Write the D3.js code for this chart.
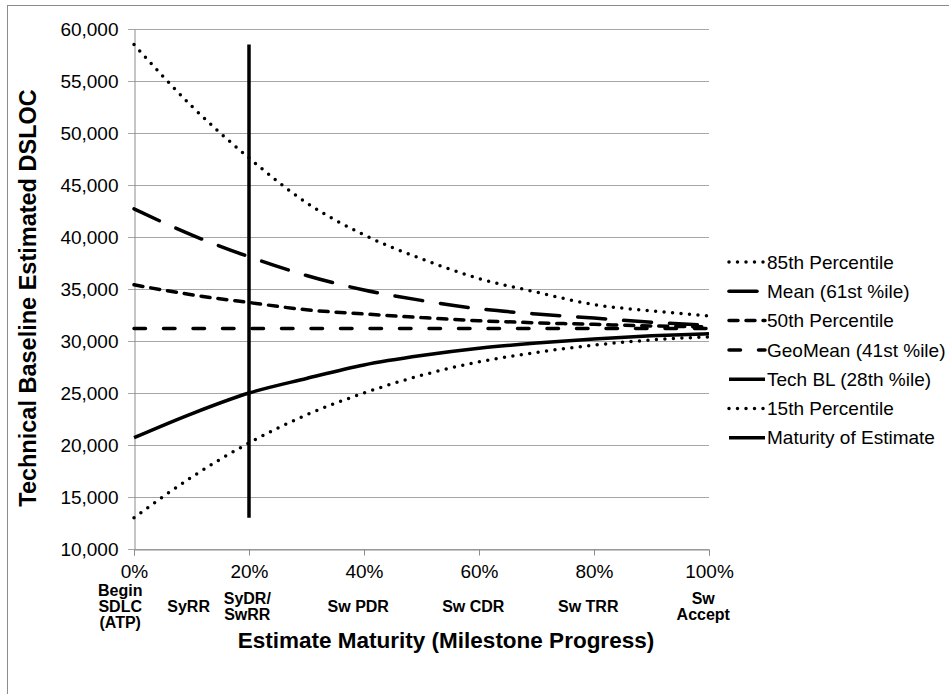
<!DOCTYPE html>
<html>
<head>
<meta charset="utf-8">
<script src="https://cdn.jsdelivr.net/npm/d3@7"></script>
<style>
  body { margin: 0; background: #fff; }
  text { font-family: "Liberation Sans", Arial, sans-serif; }
</style>
</head>
<body>
<svg id="chart"></svg>
<script>
// Data (x = milestone progress, 0..1)
const progress = [0, 0.1, 0.2, 0.3, 0.4, 0.5, 0.6, 0.7, 0.8, 0.9, 1.0];
const p85 = [58500, 52600, 47600, 43300, 40200, 37900, 36000, 34700, 33500, 32900, 32400];
const meanVals = [42700, 40200, 38100, 36300, 34900, 33900, 33100, 32600, 32200, 31800, 31500];
const p50 = [35400, 34450, 33700, 33000, 32600, 32250, 31950, 31750, 31600, 31450, 31350];
const geoMean = [31200, 31200, 31200, 31200, 31200, 31200, 31200, 31200, 31200, 31200, 31200];
const techBL = [20700, 23000, 25000, 26400, 27700, 28600, 29300, 29800, 30200, 30500, 30700];
const p15 = [13000, 16900, 20200, 22900, 25000, 26700, 28000, 28900, 29600, 30100, 30400];
const maturityX = [0.2, 0.2];
const maturityY = [13000, 58500];

const seriesNames = ["85th Percentile", "Mean (61st %ile)", "50th Percentile",
  "GeoMean (41st %ile)", "Tech BL (28th %ile)", "15th Percentile", "Maturity of Estimate"];
const yTicks = [10000, 15000, 20000, 25000, 30000, 35000, 40000, 45000, 50000, 55000, 60000];
const xTicks = [0, 0.2, 0.4, 0.6, 0.8, 1.0];
const milestones = [["Begin", "SDLC", "(ATP)"], ["SyRR"], ["SyDR/", "SwRR"], ["Sw PDR"], ["Sw CDR"], ["Sw TRR"], ["Sw", "Accept"]];
const milestonePos = [-0.024, 0.095, 0.197, 0.39, 0.59, 0.79, 0.99];

const width = 949, height = 694;
const margin = {top: 29, left: 134, right: 240, bottom: 145};

const svg = d3.select("#chart")
  .attr("width", width)
  .attr("height", height)
  .style("background", "#fff");

// chart border
svg.append("rect")
  .attr("x", 7.5).attr("y", 5.5)
  .attr("width", 960).attr("height", 720)
  .attr("fill", "none")
  .attr("stroke", "#8c8c8c");

const x = d3.scaleLinear().domain([0, 1]).range([margin.left, width - margin.right]);
const y = d3.scaleLinear().domain([10000, 60000]).range([height - margin.bottom, margin.top]);

// gridlines
svg.append("g")
  .selectAll("line")
  .data(yTicks)
  .enter().append("line")
  .attr("x1", x(0) - 6).attr("x2", x(1))
  .attr("y1", d => Math.round(y(d)) + 0.5)
  .attr("y2", d => Math.round(y(d)) + 0.5)
  .attr("stroke", "#a6a6a6");

// axes
const yAxis = svg.append("g")
  .attr("transform", `translate(${Math.round(x(0)) + 0.5},0)`)
  .call(d3.axisLeft(y).tickValues(yTicks).tickSize(0).tickPadding(16).tickFormat(d3.format(",")));
yAxis.select(".domain").attr("stroke", "#8c8c8c");
yAxis.selectAll("text").style("font-size", "19px").attr("fill", "#000");

const xAxis = svg.append("g")
  .attr("transform", `translate(0,${Math.round(y(10000)) + 0.5})`)
  .call(d3.axisBottom(x).tickValues(xTicks).tickSize(6).tickPadding(9).tickFormat(d3.format(".0%")));
xAxis.select(".domain").attr("stroke", "#8c8c8c");
xAxis.selectAll(".tick line").attr("stroke", "#8c8c8c");
xAxis.selectAll("text").style("font-size", "19px").attr("fill", "#000");

// line styles
const styles = [
  {dash: "0,8.5", cap: "round", w: 3.5},
  {dash: "28,18", cap: "round", w: 3.5},
  {dash: "9,8", cap: "round", w: 3.5},
  {dash: "11.5,18", cap: "round", w: 3.5},
  {dash: null, cap: "butt", w: 3.5},
  {dash: "0,8.5", cap: "round", w: 3.5},
  {dash: null, cap: "butt", w: 3.5}
];

const allSeries = [p85, meanVals, p50, geoMean, techBL, p15];
const line = d3.line()
  .x(d => x(d[0]))
  .y(d => y(d[1]))
  .curve(d3.curveMonotoneX);

allSeries.forEach((vals, i) => {
  svg.append("path")
    .datum(progress.map((p, j) => [p, vals[j]]))
    .attr("d", line)
    .attr("fill", "none")
    .attr("stroke", "#000")
    .attr("stroke-width", styles[i].w)
    .attr("stroke-linecap", styles[i].cap)
    .attr("stroke-dasharray", styles[i].dash);
});

// maturity of estimate marker
svg.append("path")
  .datum(maturityX.map((p, j) => [p, maturityY[j]]))
  .attr("d", d3.line().x(d => x(d[0])).y(d => y(d[1])))
  .attr("fill", "none")
  .attr("stroke", "#000")
  .attr("stroke-width", 3.5);

// legend
const legend = svg.selectAll(".legend")
  .data(seriesNames)
  .enter().append("g")
  .attr("class", "legend")
  .attr("transform", (d, i) => `translate(727, ${262 + i * 29.3})`);

legend.append("line")
  .attr("x1", 2).attr("x2", 38)
  .attr("y1", 0).attr("y2", 0)
  .attr("stroke", "#000")
  .attr("stroke-width", (d, i) => styles[i].w)
  .attr("stroke-linecap", (d, i) => styles[i].cap)
  .attr("stroke-dasharray", (d, i) => styles[i].dash);

legend.append("text")
  .attr("x", 40)
  .attr("y", 0)
  .attr("dy", "0.35em")
  .style("font-size", "19px")
  .text(d => d);

// milestone labels
const ms = svg.append("g")
  .selectAll("text")
  .data(milestones)
  .enter().append("text")
  .attr("text-anchor", "middle")
  .style("font-size", "16px")
  .style("font-weight", "bold")
  .attr("transform", (d, i) => `translate(${x(milestonePos[i])},${d.length === 3 ? 596 : d.length === 2 ? 604 : 612})`);

ms.selectAll("tspan")
  .data(d => d)
  .enter().append("tspan")
  .attr("x", 0)
  .attr("dy", (d, i) => i === 0 ? 0 : 16)
  .text(d => d);

// axis titles
svg.append("text")
  .attr("text-anchor", "middle")
  .attr("x", 446)
  .attr("y", 648)
  .style("font-size", "22.5px")
  .style("font-weight", "bold")
  .text("Estimate Maturity (Milestone Progress)");

svg.append("text")
  .attr("text-anchor", "middle")
  .attr("transform", "rotate(-90)")
  .attr("x", -298)
  .attr("y", 36)
  .style("font-size", "23.5px")
  .style("font-weight", "bold")
  .text("Technical Baseline Estimated DSLOC");
</script>
</body>
</html>
